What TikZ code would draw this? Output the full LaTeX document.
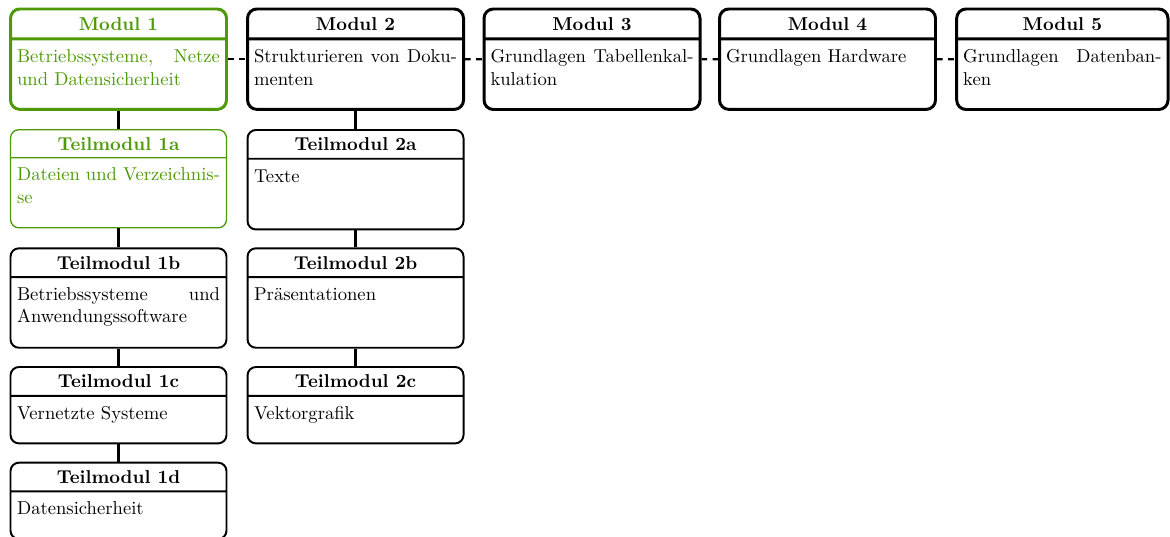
\documentclass[tikz,border=0pt]{standalone}
\usepackage{fontspec}
\usetikzlibrary{shapes.multipart}

\definecolor{gruen}{RGB}{78,154,6}

% Kopf und Inhalt eines Kastens
\newcommand{\kopf}[1]{\centering\textbf{#1}\par}
\newcommand{\inhalt}[2]{\parbox[t][#1][t]{\linewidth}{\strut #2}}

\begin{document}
\begin{tikzpicture}
  [kasten/.style={rectangle split,rectangle split parts=2,draw=black,fill=white,
     text width=3.829cm,inner xsep=3.5pt,inner ysep=3.7pt,
     align=justify,anchor=north},
   modul/.style={kasten,line width=1.6pt,rounded corners=5pt},
   teil/.style={kasten,line width=1.05pt,rounded corners=4.5pt},
   aktiv/.style={draw=gruen,text=gruen},
   linie/.style={line width=1.3pt}]
  \useasboundingbox (0,0) rectangle (22.075,-10.113);

  % Module
  \node[modul,aktiv] (m1) at (2.236,-0.1415) {\kopf{Modul 1}
    \nodepart{two}\inhalt{28.9pt}{Betriebssysteme, Netze\linebreak und Datensicherheit}};
  \node[modul] (m2) at (6.708,-0.1415) {\kopf{Modul 2}
    \nodepart{two}\inhalt{28.9pt}{Strukturieren von Doku-\linebreak menten}};
  \node[modul] (m3) at (11.170,-0.1415) {\kopf{Modul 3}
    \nodepart{two}\inhalt{28.9pt}{Grundlagen Tabellenkal-\linebreak kulation}};
  \node[modul] (m4) at (15.613,-0.1415) {\kopf{Modul 4}
    \nodepart{two}\inhalt{28.9pt}{Grundlagen Hardware}};
  \node[modul,text width=3.741cm] (m5) at (20.044,-0.1415) {\kopf{Modul 5}
    \nodepart{two}\inhalt{28.9pt}{Grundlagen Datenban-\linebreak ken}};

  % Teilmodule
  \node[teil,aktiv,line width=.7pt] (t1a) at (2.236,-2.434) {\kopf{Teilmodul 1a}
    \nodepart{two}\inhalt{29.5pt}{Dateien und Verzeichnis-\linebreak se}};
  \node[teil] (t1b) at (2.236,-4.666) {\kopf{Teilmodul 1b}
    \nodepart{two}\inhalt{29.5pt}{Betriebssysteme und\linebreak Anwendungssoftware}};
  \node[teil] (t1c) at (2.236,-6.906) {\kopf{Teilmodul 1c}
    \nodepart{two}\inhalt{17.1pt}{Vernetzte Systeme}};
  \node[teil] (t1d) at (2.236,-8.711) {\kopf{Teilmodul 1d}
    \nodepart{two}\inhalt{17.1pt}{Datensicherheit}};
  \node[teil] (t2a) at (6.708,-2.434) {\kopf{Teilmodul 2a}
    \nodepart{two}\inhalt{29.5pt}{Texte}};
  \node[teil] (t2b) at (6.708,-4.666) {\kopf{Teilmodul 2b}
    \nodepart{two}\inhalt{29.5pt}{Präsentationen}};
  \node[teil] (t2c) at (6.708,-6.906) {\kopf{Teilmodul 2c}
    \nodepart{two}\inhalt{17.1pt}{Vektorgrafik}};

  \foreach \von/\nach in {m1/t1a,t1a/t1b,t1b/t1c,t1c/t1d,m2/t2a,t2a/t2b,t2b/t2c}
    \draw[linie] (\von) -- (\nach);
  \foreach \von/\nach in {m1/m2,m2/m3,m3/m4,m4/m5}
    \draw[linie,dashed] (\von) -- (\nach);

\end{tikzpicture}
\end{document}
